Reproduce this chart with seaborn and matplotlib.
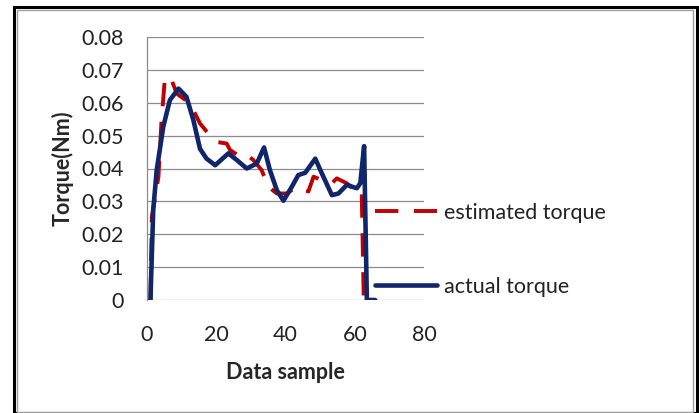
import pandas as pd
import matplotlib
matplotlib.use('Agg')
import matplotlib.pyplot as plt
import seaborn as sns
from matplotlib.patches import Rectangle

sns.set_style('white')
plt.rcParams['font.family'] = ['Lato', 'DejaVu Sans']

# actual torque
actual_x = [1, 1.8, 2.8, 4.7, 6.6, 9.1, 11.4, 13.4, 15.3, 17.2, 19.7, 23.5, 25.9, 28.8,
            31.7, 33.8, 35.5, 37.5, 39.4, 41.8, 43.7, 45.7, 48.6, 50.5, 53.4, 55.3,
            57.7, 60.6, 61.6, 62.7, 63.5, 65.9]
actual_y = [0, 0.0274, 0.0395, 0.0527, 0.0608, 0.0643, 0.0618, 0.0547, 0.046, 0.043,
            0.041, 0.0446, 0.0426, 0.040, 0.0415, 0.0464, 0.0395, 0.0334, 0.0302,
            0.0344, 0.038, 0.0387, 0.043, 0.0385, 0.0319, 0.0324, 0.035, 0.034,
            0.0355, 0.0468, 0, 0]

# estimated torque
est_x = [1, 1.4, 3.3, 4.2, 5.2, 7.1, 8.6, 12.4, 15.3, 18.2, 20.6, 23, 24, 26.9, 28.8,
         30.7, 33.1, 35.1, 37.5, 40.3, 43.2, 46.6, 48.1, 50.5, 53.4, 54.8, 57.7,
         61, 62, 62.6]
est_y = [0, 0.0253, 0.0375, 0.0547, 0.0679, 0.0669, 0.0628, 0.0598, 0.0537, 0.050,
         0.048, 0.0476, 0.0456, 0.0436, 0.0441, 0.0426, 0.0395, 0.0344, 0.0324,
         0.0324, 0.0344, 0.033, 0.0375, 0.0365, 0.0355, 0.037, 0.0355, 0.0324,
         0.033, 0]

yticks = [0, 0.01, 0.02, 0.03, 0.04, 0.05, 0.06, 0.07, 0.08]
ytick_labels = ['0', '0.01', '0.02', '0.03', '0.04', '0.05', '0.06', '0.07', '0.08']
xticks = [0, 20, 40, 60, 80]

df_est = pd.DataFrame({'x': est_x, 'y': est_y})
df_act = pd.DataFrame({'x': actual_x, 'y': actual_y})

fs = 15.5

fig = plt.figure(figsize=(6.99, 4.13), dpi=100)
ax = fig.add_axes([147/699, 1 - 300/413, 277/699, 263/413])

sns.lineplot(data=df_est, x='x', y='y', sort=False, ax=ax, color='#C00000',
             lw=2.8, dashes=False, label='estimated torque')
ax.lines[-1].set_dashes([6, 4])
sns.lineplot(data=df_act, x='x', y='y', sort=False, ax=ax, color='#10256A',
             lw=3.3, label='actual torque')
for ln in ax.lines:
    ln.set_solid_capstyle('round')
    ln.set_solid_joinstyle('round')

ax.set_xlim(0, 80)
ax.set_ylim(0, 0.08)
ax.set_yticks(yticks)
ax.set_yticklabels(ytick_labels)
ax.set_xticks(xticks)
ax.yaxis.grid(True, color='#8c8c8c', lw=0.9)
ax.xaxis.grid(False)
for s in ['top', 'right', 'bottom']:
    ax.spines[s].set_visible(False)
ax.spines['left'].set_color('#8c8c8c')
ax.spines['left'].set_linewidth(0.9)
ax.tick_params(axis='y', length=0, pad=17, labelsize=fs, colors='#222222')
ax.tick_params(axis='x', length=0, pad=18, labelsize=fs, colors='#222222')
ax.set_ylabel('Torque(Nm)', fontsize=fs, fontweight='bold', labelpad=5)
ax.set_xlabel('Data sample', fontsize=fs, fontweight='bold', labelpad=12)

leg = ax.legend(loc='upper left', bbox_to_anchor=(375/699, 1 - 203/413),
                bbox_transform=fig.transFigure, frameon=False, fontsize=fs,
                handlelength=2.9, handletextpad=0.3, labelspacing=2.5,
                borderpad=0, borderaxespad=0)
for t in leg.get_texts():
    t.set_color('#222222')

# chart frame
fig.patches.append(Rectangle((14/699, 0), 683/699, 1 - 7/413, transform=fig.transFigure,
                             fill=False, ec='black', lw=2.2))
fig.patches.append(Rectangle((16.5/699, 1/413), 676/699, 1 - 11/413, transform=fig.transFigure,
                             fill=False, ec='#a0a0a0', lw=1))

fig.savefig('out.png', dpi=100)
